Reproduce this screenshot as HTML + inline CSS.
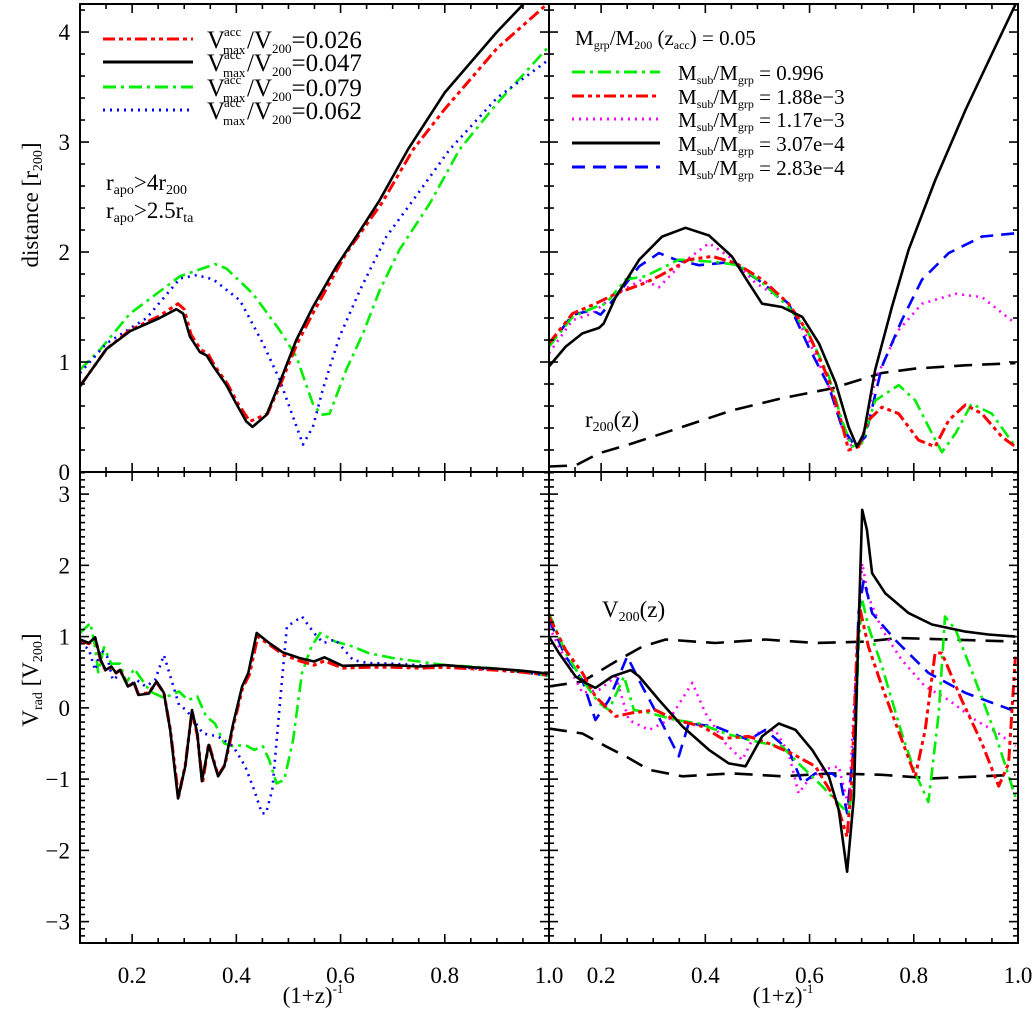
<!DOCTYPE html>
<html><head><meta charset="utf-8">
<style>
html,body{margin:0;padding:0;background:#fff;}
svg text{font-family:"Liberation Serif","DejaVu Serif",serif;fill:#000;}
</style></head>
<body>
<svg id="chart" width="1036" height="1011" viewBox="0 0 1036 1011" xmlns="http://www.w3.org/2000/svg">
<rect x="0" y="0" width="1036" height="1011" fill="#fff"/>
<g id="plots"></g>
<g id="axes"></g>
<g id="labels" font-size="23">
  <text transform="translate(38,205) rotate(-90)" text-anchor="middle">distance [r<tspan font-size="14" dy="4">200</tspan><tspan dy="-4">]</tspan></text>
  <text transform="translate(38,680) rotate(-90)" text-anchor="middle">V<tspan font-size="14" dy="4">rad</tspan><tspan dy="-4"> [V</tspan><tspan font-size="14" dy="4">200</tspan><tspan dy="-4">]</tspan></text>
  <text x="313" y="1003" text-anchor="middle">(1+z)<tspan font-size="13" dy="-10">-1</tspan></text>
  <text x="783" y="1003" text-anchor="middle">(1+z)<tspan font-size="13" dy="-10">-1</tspan></text>
  <text x="106" y="190">r<tspan font-size="14" dy="4">apo</tspan><tspan dy="-4">&gt;4r</tspan><tspan font-size="14" dy="4">200</tspan></text>
  <text x="106" y="218">r<tspan font-size="14" dy="4">apo</tspan><tspan dy="-4">&gt;2.5r</tspan><tspan font-size="14" dy="4">ta</tspan></text>
  <text x="585" y="427">r<tspan font-size="14" dy="4">200</tspan><tspan dy="-4">(z)</tspan></text>
  <text x="602" y="617">V<tspan font-size="14" dy="4">200</tspan><tspan dy="-4">(z)</tspan></text>
  <text x="575" y="45" font-size="21">M<tspan font-size="12" dy="4">grp</tspan><tspan dy="-4">/M</tspan><tspan font-size="12" dy="4">200</tspan><tspan dy="-4"> (z</tspan><tspan font-size="12" dy="4">acc</tspan><tspan dy="-4">) = 0.05</tspan></text>
</g>
<g id="legend"></g>
</svg>
<script>
// ---------- DATA ----------
const tlBlackX=[0.1,0.151,0.196,0.253,0.285,0.298,0.311,0.33,0.343,0.356,0.381,0.40,0.419,0.431,0.458,0.483,0.515,0.547,0.592,0.63,0.675,0.729,0.8,0.9,0.96];
const tlBlackY=[0.78,1.12,1.28,1.40,1.48,1.44,1.23,1.09,1.06,0.96,0.79,0.62,0.46,0.41,0.52,0.81,1.2,1.5,1.87,2.14,2.47,2.93,3.45,4.0,4.3];
const tlRedX=[0.1,0.151,0.196,0.253,0.288,0.3,0.313,0.332,0.345,0.358,0.383,0.402,0.426,0.46,0.485,0.517,0.55,0.611,0.68,0.739,0.8,0.9,1.0];
const tlRedY=[0.78,1.12,1.29,1.42,1.53,1.48,1.25,1.11,1.08,0.97,0.8,0.63,0.46,0.53,0.8,1.17,1.47,1.99,2.45,2.93,3.3,3.85,4.27];
const tlGreenX=[0.1,0.138,0.196,0.292,0.359,0.381,0.432,0.483,0.515,0.547,0.563,0.579,0.611,0.643,0.675,0.713,0.771,0.828,0.9,1.0];
const tlGreenY=[0.93,1.11,1.44,1.78,1.89,1.85,1.62,1.29,1.05,0.62,0.52,0.53,0.93,1.26,1.65,2.02,2.44,2.93,3.35,3.87];
const tlBlueX=[0.1,0.151,0.228,0.292,0.324,0.356,0.407,0.451,0.483,0.509,0.528,0.547,0.566,0.598,0.637,0.688,0.739,0.809,0.9,1.0];
const tlBlueY=[0.9,1.17,1.40,1.76,1.79,1.75,1.56,1.17,0.84,0.5,0.25,0.41,0.75,1.23,1.65,2.14,2.47,2.93,3.4,3.75];

const trBlackX=[0.1,0.132,0.164,0.196,0.205,0.228,0.273,0.317,0.362,0.407,0.451,0.483,0.509,0.547,0.586,0.618,0.65,0.675,0.691,0.704,0.726,0.758,0.79,0.841,0.9,0.95,1.0];
const trBlackY=[0.96,1.14,1.26,1.31,1.35,1.59,1.93,2.14,2.22,2.15,1.96,1.72,1.53,1.50,1.41,1.17,0.81,0.41,0.23,0.35,0.93,1.50,2.02,2.65,3.3,3.8,4.3];
const trGreenX=[0.1,0.145,0.189,0.209,0.247,0.285,0.349,0.419,0.464,0.509,0.56,0.598,0.637,0.662,0.681,0.7,0.726,0.771,0.803,0.835,0.854,0.88,0.911,0.95,0.995];
const trGreenY=[1.14,1.41,1.5,1.53,1.75,1.78,1.93,1.91,1.88,1.72,1.5,1.26,0.87,0.47,0.23,0.26,0.65,0.79,0.65,0.35,0.18,0.35,0.62,0.53,0.23];
const trRedX=[0.1,0.145,0.189,0.228,0.285,0.311,0.368,0.413,0.458,0.509,0.56,0.598,0.637,0.662,0.675,0.694,0.713,0.739,0.771,0.809,0.841,0.867,0.899,0.931,0.969,0.995];
const trRedY=[1.17,1.44,1.53,1.62,1.72,1.78,1.93,1.96,1.9,1.75,1.53,1.26,0.84,0.44,0.2,0.23,0.47,0.59,0.53,0.29,0.23,0.47,0.61,0.53,0.32,0.23];
const trMagX=[0.1,0.145,0.183,0.228,0.279,0.311,0.356,0.407,0.445,0.496,0.56,0.598,0.637,0.662,0.681,0.7,0.726,0.771,0.816,0.88,0.931,0.995];
const trMagY=[1.08,1.38,1.44,1.62,1.75,1.68,1.9,2.08,1.96,1.72,1.53,1.2,0.78,0.41,0.23,0.26,0.84,1.29,1.53,1.62,1.59,1.35];
const trBlueX=[0.1,0.145,0.183,0.199,0.228,0.273,0.311,0.343,0.388,0.451,0.509,0.56,0.598,0.637,0.662,0.688,0.707,0.739,0.777,0.816,0.867,0.931,0.995];
const trBlueY=[1.14,1.43,1.47,1.43,1.59,1.87,1.99,1.93,1.88,1.91,1.72,1.53,1.14,0.78,0.41,0.23,0.32,0.96,1.38,1.75,1.99,2.14,2.17];
const trR200X=[0.1,0.151,0.196,0.26,0.356,0.451,0.547,0.643,0.739,0.803,0.899,0.995];
const trR200Y=[0.05,0.06,0.17,0.26,0.41,0.56,0.67,0.76,0.9,0.94,0.97,0.99];

const blBlackX=[0.1,0.117,0.129,0.14,0.149,0.16,0.169,0.177,0.192,0.204,0.212,0.232,0.247,0.261,0.273,0.288,0.302,0.315,0.325,0.334,0.347,0.365,0.377,0.394,0.411,0.423,0.439,0.463,0.489,0.521,0.549,0.569,0.604,0.653,0.7,0.75,0.8,0.85,0.9,0.95,1.0];
const blBlackY=[0.96,0.91,0.99,0.67,0.53,0.58,0.49,0.53,0.30,0.35,0.18,0.2,0.37,0.21,-0.31,-1.27,-0.82,-0.03,-0.36,-1.03,-0.52,-0.96,-0.82,-0.22,0.3,0.49,1.05,0.91,0.78,0.70,0.65,0.71,0.59,0.6,0.6,0.58,0.6,0.57,0.55,0.52,0.48];
const blRedX=[0.1,0.117,0.129,0.14,0.149,0.16,0.169,0.177,0.192,0.204,0.212,0.232,0.247,0.261,0.273,0.289,0.302,0.315,0.325,0.335,0.347,0.365,0.378,0.396,0.412,0.425,0.441,0.465,0.49,0.521,0.549,0.569,0.604,0.653,0.7,0.75,0.8,0.85,0.9,0.95,1.0];
const blRedY=[0.95,0.9,0.98,0.66,0.53,0.57,0.49,0.53,0.31,0.34,0.19,0.21,0.36,0.21,-0.3,-1.25,-0.8,-0.05,-0.38,-1.05,-0.5,-0.95,-0.8,-0.2,0.28,0.47,1.0,0.88,0.75,0.66,0.6,0.66,0.56,0.57,0.57,0.56,0.57,0.55,0.53,0.5,0.46];
const blGreenX=[0.1,0.12,0.129,0.135,0.146,0.16,0.177,0.189,0.204,0.221,0.235,0.261,0.29,0.307,0.325,0.342,0.359,0.377,0.394,0.417,0.434,0.451,0.463,0.477,0.492,0.509,0.526,0.544,0.561,0.59,0.624,0.653,0.7,0.75,0.8,0.85,0.9,0.95,1.0];
const blGreenY=[1.05,1.19,0.85,0.5,0.85,0.62,0.62,0.35,0.55,0.37,0.23,0.14,0.23,0.11,0.16,-0.12,-0.22,-0.5,-0.54,-0.52,-0.59,-0.54,-0.73,-1.06,-1.01,-0.45,0.49,0.86,1.05,0.93,0.86,0.77,0.7,0.65,0.6,0.58,0.55,0.5,0.45];
const blBlueX=[0.1,0.117,0.129,0.14,0.152,0.163,0.18,0.192,0.209,0.226,0.244,0.261,0.273,0.29,0.304,0.313,0.336,0.365,0.394,0.417,0.434,0.449,0.457,0.469,0.486,0.497,0.526,0.549,0.567,0.59,0.624,0.653,0.7,0.75,0.8,0.85,0.9,0.95,1.0];
const blBlueY=[0.91,0.82,0.53,0.82,0.72,0.39,0.49,0.3,0.39,0.3,0.39,0.74,0.45,0.04,-0.03,-0.12,-0.36,-0.4,-0.54,-0.82,-1.15,-1.48,-1.48,-1.15,0.25,1.14,1.28,1.05,0.91,0.96,0.67,0.63,0.62,0.6,0.58,0.56,0.53,0.5,0.45];

const brBlackX=[0.1,0.119,0.151,0.17,0.189,0.221,0.257,0.273,0.311,0.356,0.407,0.445,0.477,0.509,0.541,0.573,0.605,0.637,0.656,0.672,0.685,0.691,0.701,0.71,0.72,0.745,0.79,0.835,0.899,0.943,0.995];
const brBlackY=[1.0,0.77,0.44,0.35,0.28,0.44,0.53,0.44,0.11,-0.26,-0.59,-0.78,-0.82,-0.4,-0.22,-0.31,-0.59,-0.96,-1.43,-2.3,-1.25,0.39,2.78,2.5,1.89,1.61,1.33,1.17,1.07,1.03,1.0];
const brGreenX=[0.1,0.132,0.164,0.196,0.215,0.244,0.263,0.292,0.343,0.388,0.439,0.483,0.515,0.547,0.579,0.624,0.662,0.675,0.685,0.694,0.701,0.713,0.739,0.777,0.803,0.828,0.848,0.86,0.88,0.918,0.956,0.995];
const brGreenY=[1.33,0.77,0.39,0.07,-0.03,0.44,-0.03,-0.07,-0.17,-0.22,-0.36,-0.45,-0.5,-0.54,-0.78,-1.1,-1.39,-1.48,-1.01,0.86,1.52,1.14,0.58,-0.36,-0.92,-1.32,-0.07,1.28,1.1,0.39,-0.36,-1.25];
const brRedX=[0.1,0.132,0.164,0.189,0.228,0.26,0.304,0.343,0.394,0.432,0.483,0.522,0.566,0.611,0.65,0.672,0.681,0.691,0.697,0.713,0.739,0.777,0.803,0.822,0.841,0.854,0.892,0.931,0.963,0.982,0.995];
const brRedY=[1.28,0.81,0.49,0.16,-0.12,-0.07,-0.03,-0.17,-0.26,-0.43,-0.4,-0.5,-0.64,-0.82,-1.29,-1.81,-1.01,0.86,1.38,0.86,0.3,-0.45,-0.96,-0.31,0.77,0.77,0.11,-0.5,-1.1,-0.78,0.72];
const brMagX=[0.1,0.132,0.164,0.196,0.228,0.253,0.292,0.33,0.375,0.4,0.439,0.471,0.496,0.534,0.56,0.579,0.598,0.624,0.656,0.675,0.688,0.701,0.713,0.739,0.777,0.822,0.867,0.918,0.963,0.995];
const brMagY=[1.14,0.67,0.21,0.25,0.44,-0.17,-0.31,-0.17,0.35,-0.07,-0.5,-0.73,-0.36,-0.31,-0.64,-1.2,-1.01,-0.87,-0.82,-1.39,0.39,2.03,1.56,1.1,0.67,0.3,0.11,-0.17,-0.36,-0.54];
const brBlueX=[0.1,0.132,0.164,0.189,0.215,0.25,0.279,0.317,0.349,0.368,0.419,0.483,0.515,0.56,0.586,0.611,0.643,0.659,0.672,0.685,0.694,0.704,0.72,0.765,0.828,0.899,0.988];
const brBlueY=[1.24,0.72,0.39,-0.17,0.11,0.72,0.3,-0.22,-0.68,-0.22,-0.26,-0.45,-0.31,-0.59,-1.06,-0.92,-0.92,-1.01,-1.48,-0.54,1.33,1.8,1.33,0.95,0.49,0.21,-0.03];
const brV200UpX=[0.1,0.164,0.228,0.279,0.324,0.419,0.515,0.611,0.707,0.771,0.867,0.995];
const brV200UpY=[0.3,0.37,0.65,0.86,0.96,0.91,0.96,0.91,0.93,0.98,0.96,0.93];
const brV200LoX=[0.1,0.164,0.209,0.247,0.292,0.356,0.451,0.547,0.643,0.739,0.835,0.931,0.995];
const brV200LoY=[-0.29,-0.36,-0.54,-0.68,-0.87,-0.96,-0.92,-0.96,-0.92,-0.94,-0.99,-0.96,-0.94];

const xTickVals=[0.2,0.4,0.6,0.8,1.0];
const xTickLabels=["0.2","0.4","0.6","0.8","1.0"];
const topYTickVals=[0,1,2,3,4];
const topYTickLabels=["0","1","2","3","4"];
const botYTickVals=[3,2,1,0,-1,-2,-3];
const botYTickLabels=["3","2","1","0","\u22121","\u22122","\u22123"];

// ---------- GEOMETRY ----------
const NS="http://www.w3.org/2000/svg";
const PL={L:{x0:80,x1:549},R:{x0:549,x1:1018}};
const PT={T:{y0:4,y1:472,min:0,max:4.255},B:{y0:472,y1:943,min:-3.3,max:3.31}};
function xs(col,v){const p=PL[col];return p.x0+(v-0.1)/0.9*(p.x1-p.x0);}
function ys(row,v){const p=PT[row];return p.y1-(v-p.min)/(p.max-p.min)*(p.y1-p.y0);}

const COLORS={red:"#ff0000",black:"#000000",green:"#00ee00",blue:"#0000ff",mag:"#ff00ff"};
const DASH={red:"12,4,4,4,4,4",black:"",green:"13,5,3,5",blue:"2,5",mag:"2,5",bluedash:"13,8",longdash:"18,10"};

const plots=document.getElementById('plots');
["TL","TR","BL","BR"].forEach(k=>{
  const c=document.createElementNS(NS,'clipPath');c.setAttribute('id','clip'+k);
  const r=document.createElementNS(NS,'rect');
  const col=k[1]==='L'?'L':'R', row=k[0];
  r.setAttribute('x',PL[col].x0);r.setAttribute('y',PT[row].y0);
  r.setAttribute('width',PL[col].x1-PL[col].x0);r.setAttribute('height',PT[row].y1-PT[row].y0);
  c.appendChild(r);plots.appendChild(c);
});

function drawLine(panel,X,Y,color,dash,name,w){
  const col=panel[1]==='L'?'L':'R',row=panel[0];
  let d='';
  for(let i=0;i<X.length;i++){d+=(i?'L':'M')+xs(col,X[i]).toFixed(1)+','+ys(row,Y[i]).toFixed(1);}
  const p=document.createElementNS(NS,'path');
  p.setAttribute('d',d);p.setAttribute('fill','none');p.setAttribute('stroke',color);
  p.setAttribute('stroke-width',w||2.6);p.setAttribute('stroke-linejoin','round');
  if(dash)p.setAttribute('stroke-dasharray',dash);
  p.setAttribute('clip-path','url(#clip'+panel+')');
  
  
  plots.appendChild(p);
}
drawLine('TL',tlGreenX,tlGreenY,COLORS.green,DASH.green,'tl-line-green');
drawLine('TL',tlBlueX,tlBlueY,COLORS.blue,DASH.blue,'tl-line-blue');
drawLine('TL',tlRedX,tlRedY,COLORS.red,DASH.red,'tl-line-red',3);
drawLine('TL',tlBlackX,tlBlackY,COLORS.black,'','tl-line-black');

drawLine('TR',trR200X,trR200Y,COLORS.black,DASH.longdash,'tr-line-r200');
drawLine('TR',trMagX,trMagY,COLORS.mag,DASH.mag,'tr-line-magenta');
drawLine('TR',trBlueX,trBlueY,COLORS.blue,DASH.bluedash,'tr-line-blue');
drawLine('TR',trGreenX,trGreenY,COLORS.green,DASH.green,'tr-line-green');
drawLine('TR',trRedX,trRedY,COLORS.red,DASH.red,'tr-line-red',3);
drawLine('TR',trBlackX,trBlackY,COLORS.black,'','tr-line-black');

drawLine('BL',blGreenX,blGreenY,COLORS.green,DASH.green,'bl-line-green');
drawLine('BL',blBlueX,blBlueY,COLORS.blue,DASH.blue,'bl-line-blue');
drawLine('BL',blRedX,blRedY,COLORS.red,DASH.red,'bl-line-red',3.2);
drawLine('BL',blBlackX,blBlackY,COLORS.black,'','bl-line-black');

drawLine('BR',brV200UpX,brV200UpY,COLORS.black,DASH.longdash,'br-line-v200-upper');
drawLine('BR',brV200LoX,brV200LoY,COLORS.black,DASH.longdash,'br-line-v200-lower');
drawLine('BR',brMagX,brMagY,COLORS.mag,DASH.mag,'br-line-magenta');
drawLine('BR',brBlueX,brBlueY,COLORS.blue,DASH.bluedash,'br-line-blue');
drawLine('BR',brGreenX,brGreenY,COLORS.green,DASH.green,'br-line-green');
drawLine('BR',brRedX,brRedY,COLORS.red,DASH.red,'br-line-red',3);
drawLine('BR',brBlackX,brBlackY,COLORS.black,'','br-line-black');

// ---------- AXES ----------
const axes=document.getElementById('axes');
function ln(x1,y1,x2,y2,w){const l=document.createElementNS(NS,'line');
  l.setAttribute('x1',x1);l.setAttribute('y1',y1);l.setAttribute('x2',x2);l.setAttribute('y2',y2);
  l.setAttribute('stroke','#000');l.setAttribute('stroke-width',w||1.6);
  
  
  axes.appendChild(l);}
function txt(x,y,s,anchor,name){const t=document.createElementNS(NS,'text');
  t.setAttribute('x',x);t.setAttribute('y',y);t.setAttribute('text-anchor',anchor);t.setAttribute('font-size','23');
  t.textContent=s;
  
  
  axes.appendChild(t);}
["TL","TR","BL","BR"].forEach(k=>{
  const col=k[1]==='L'?'L':'R',row=k[0];
  const x0=PL[col].x0,x1=PL[col].x1,y0=PT[row].y0,y1=PT[row].y1;
  const r=document.createElementNS(NS,'rect');
  r.setAttribute('x',x0);r.setAttribute('y',y0);r.setAttribute('width',x1-x0);r.setAttribute('height',y1-y0);
  r.setAttribute('fill','none');r.setAttribute('stroke','#000');r.setAttribute('stroke-width','2');
  
  
  axes.appendChild(r);
  for(let i=0;i<=18;i++){const v=0.1+i*0.05;const x=xs(col,v);const major=Math.abs((v*10)%2)<0.01||Math.abs((v*10)%2-2)<0.01;
    const L=major?9:5;ln(x,y1,x,y1-L);ln(x,y0,x,y0+L);}
  const step=row==='T'?0.2:0.1;const pm=PT[row];
  for(let v=Math.ceil(pm.min/step)*step;v<=pm.max+1e-9;v+=step){const y=ys(row,v);const major=Math.abs(v-Math.round(v))<1e-6;
    const L=major?9:5;ln(x0,y,x0+L,y);ln(x1,y,x1-L,y);}
});
xTickVals.forEach((v,i)=>{txt(xs('L',v),983,xTickLabels[i],'middle','x-tick-label-left');txt(xs('R',v),983,xTickLabels[i],'middle','x-tick-label-right');});
topYTickVals.forEach((v,i)=>txt(70,ys('T',v)+8,topYTickLabels[i],'end','y-tick-label-top'));
botYTickVals.forEach((v,i)=>txt(70,ys('B',v)+8,botYTickLabels[i],'end','y-tick-label-bottom'));

// ---------- LEGENDS ----------
const lg=document.getElementById('legend');
const leftLeg=[["red","0.026"],["black","0.047"],["green","0.079"],["blue","0.062"]];
const leftLegY=[39,62,87,110];
leftLeg.forEach((e,i)=>{
  const g=document.createElementNS(NS,'g');
  
  
  const y=leftLegY[i];
  g.innerHTML='<line x1="103" y1="'+y+'" x2="193" y2="'+y+'" stroke="'+COLORS[e[0]]+'" stroke-width="3" '+(DASH[e[0]]?'stroke-dasharray="'+DASH[e[0]]+'"':'')+'/>'+
   '<text x="207" y="'+(y+9)+'" font-size="25">V</text>'+
   '<text x="224" y="'+(y-3)+'" font-size="13">acc</text>'+
   '<text x="223" y="'+(y+15)+'" font-size="13">max</text>'+
   '<text x="247" y="'+(y+9)+'" font-size="25">/V<tspan font-size="13" dy="5">200</tspan><tspan dy="-5">='+e[1]+'</tspan></text>';
  lg.appendChild(g);
});
const rightLeg=[["green","0.996",DASH.green],["red","1.88e\u22123",DASH.red],["mag","1.17e\u22123",DASH.mag],["black","3.07e\u22124",""],["blue","2.83e\u22124",DASH.bluedash]];
const rightLegY=[72,96,119,143,167];
rightLeg.forEach((e,i)=>{
  const g=document.createElementNS(NS,'g');
  
  
  const y=rightLegY[i];
  g.innerHTML='<line x1="572" y1="'+y+'" x2="660" y2="'+y+'" stroke="'+COLORS[e[0]]+'" stroke-width="3" '+(e[2]?'stroke-dasharray="'+e[2]+'"':'')+'/>'+
   '<text x="678" y="'+(y+8)+'" font-size="21">M<tspan font-size="12" dy="4">sub</tspan><tspan dy="-4">/M</tspan><tspan font-size="12" dy="4">grp</tspan><tspan dy="-4"> = '+e[1]+'</tspan></text>';
  lg.appendChild(g);
});
</script>
</body></html>
